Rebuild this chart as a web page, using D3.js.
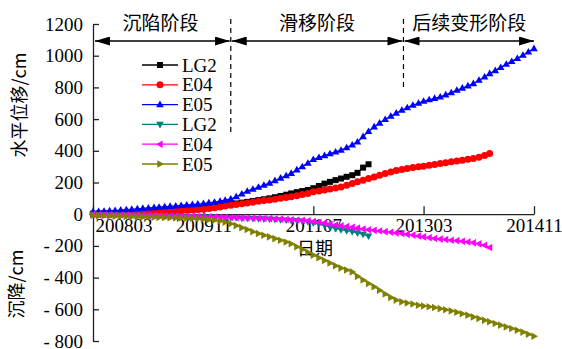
<!DOCTYPE html>
<html>
<head>
<meta charset="utf-8">
<script src="https://cdn.jsdelivr.net/npm/d3@7"></script>
<style>
  html, body { margin: 0; padding: 0; background: #fff; }
  svg { display: block; }
</style>
</head>
<body>
<script>
// Monthly monitoring readings from 2008-03 onward (cm)
const startMonth = "200803";
const endMonth = "201411";
const xTickLabels = ["200803", "200911", "201107", "201303", "201411"];
const yTickValues = [-800, -600, -400, -200, 0, 200, 400, 600, 800, 1000, 1200];
const seriesNames = ["LG2", "E04", "E05", "LG2", "E04", "E05"];
const phaseNames = ["沉陷阶段", "滑移阶段", "后续变形阶段"];
const phaseBounds = ["2008-03-01", "2010-04-01", "2012-11-10", "2014-11-01"];

// horizontal displacement
const lg2Horizontal = [3, 4, 5, 6, 7, 8, 9, 10, 11, 13, 14, 15, 17, 18, 20, 22, 24, 27, 29, 31,
  34, 39, 44, 50, 56, 63, 68, 73, 78, 83, 89, 94, 100, 107, 115, 123, 131, 139, 146, 153,
  164, 178, 193, 204, 215, 225, 236, 246, 261, 294, 315];
const e04Horizontal = [2, 3, 4, 5, 6, 7, 8, 9, 10, 12, 13, 14, 16, 17, 19, 21, 23, 25, 27, 29,
  32, 36, 41, 46, 51, 57, 61, 66, 71, 76, 81, 86, 90, 95, 100, 105, 110, 117, 124, 131,
  141, 147, 153, 159, 166, 172, 183, 193, 204, 214, 225, 235, 246, 257, 267, 275, 282, 288, 294, 299,
  303, 309, 314, 320, 325, 331, 336, 341, 346, 351, 360, 370, 383];
const e05Horizontal = [15, 17, 19, 21, 23, 26, 28, 31, 34, 37, 39, 42, 44, 47, 50, 52, 55, 58, 61, 64,
  67, 72, 76, 82, 88, 96, 110, 128, 145, 158, 170, 183, 196, 212, 228, 243, 258, 280, 300, 322,
  345, 358, 370, 382, 393, 404, 420, 437, 456, 490, 522, 551, 575, 598, 618, 638, 656, 672, 688, 700,
  713, 722, 731, 740, 753, 767, 782, 796, 810, 824, 845, 866, 887, 906, 926, 946, 964, 983, 1003, 1024,
  1045];

// settlement
const lg2Settlement = [-1, -2, -3, -4, -4, -5, -6, -6, -7, -8, -9, -9, -10, -11, -12, -12, -13, -14, -15, -16,
  -17, -18, -19, -20, -21, -22, -23, -25, -26, -27, -28, -30, -31, -33, -35, -37, -39, -41, -44, -48,
  -55, -62, -70, -80, -90, -98, -104, -110, -118, -127, -138];
const e04Settlement = [-2, -3, -3, -4, -5, -5, -6, -7, -7, -8, -9, -9, -10, -11, -11, -12, -13, -13, -14, -15,
  -16, -17, -18, -19, -20, -21, -22, -23, -24, -25, -26, -27, -28, -30, -31, -33, -35, -37, -39, -41,
  -46, -51, -56, -62, -68, -73, -78, -83, -88, -93, -98, -102, -106, -110, -114, -118, -122, -127, -132, -138,
  -143, -148, -153, -157, -160, -164, -167, -171, -175, -180, -187, -196, -210];
const e05Settlement = [-8, -9, -10, -11, -12, -13, -14, -15, -16, -17, -18, -19, -20, -21, -22, -23, -24, -25, -27, -29,
  -31, -34, -38, -43, -50, -60, -72, -85, -97, -110, -122, -133, -143, -154, -164, -175, -186, -205, -222, -240,
  -258, -275, -292, -308, -325, -340, -352, -364, -392, -415, -437, -458, -480, -503, -525, -542, -553, -560, -567, -574,
  -579, -584, -589, -596, -603, -610, -619, -628, -637, -648, -658, -669, -679, -690, -700, -711, -721, -732, -744, -757,
  -770];

const seriesColors = ["#000000", "#ff0000", "#0000ff", "#008080", "#ff00ff", "#808000"];
const seriesShapes = ["square", "circle", "up", "down", "left", "right"];
const seriesValues = [lg2Horizontal, e04Horizontal, e05Horizontal, lg2Settlement, e04Settlement, e05Settlement];

const W = 562, H = 349;
const SERIF = '"Liberation Serif", "Times New Roman", serif';
const CJK = '"Noto Sans CJK SC", "Noto Sans", sans-serif';

const parseMonth = d3.timeParse("%Y%m");
const parseDay = d3.timeParse("%Y-%m-%d");
const t0 = parseMonth(startMonth);

const x = d3.scaleTime().domain([t0, parseMonth(endMonth)]).range([93, 534]);
const y = d3.scaleLinear().domain([-800, 1200]).range([341, 24]);

const svg = d3.select("body").append("svg").attr("width", W).attr("height", H);

// arrowheads for the phase spans
const defs = svg.append("defs");
defs.append("marker").attr("id", "arrowEnd")
  .attr("markerUnits", "userSpaceOnUse").attr("markerWidth", 16).attr("markerHeight", 10)
  .attr("refX", 15).attr("refY", 4.5).attr("orient", "auto")
  .append("path").attr("d", "M0,0 L15,4.5 L0,9 Z").attr("fill", "#000");
defs.append("marker").attr("id", "arrowStart")
  .attr("markerUnits", "userSpaceOnUse").attr("markerWidth", 16).attr("markerHeight", 10)
  .attr("refX", 0).attr("refY", 4.5).attr("orient", "auto")
  .append("path").attr("d", "M15,0 L0,4.5 L15,9 Z").attr("fill", "#000");

// y axis
const yAxis = svg.append("g").attr("transform", "translate(93,0)")
  .call(d3.axisLeft(y).tickValues(yTickValues).tickSizeInner(-6).tickSizeOuter(0).tickPadding(10)
    .tickFormat(d => d < 0 ? "- " + Math.abs(d) : String(d)));
yAxis.select(".domain").attr("stroke", "#222").attr("stroke-width", 1.3);
yAxis.selectAll(".tick line").attr("stroke", "#222").attr("stroke-width", 1.3);
yAxis.selectAll(".tick text").style("font-family", SERIF).style("font-size", "19px").attr("fill", "#000");

// x axis along the zero line
const xAxis = svg.append("g").attr("transform", `translate(0,${y(0)})`)
  .call(d3.axisBottom(x).tickValues(xTickLabels.map(parseMonth)).tickSizeInner(-8).tickSizeOuter(0)
    .tickPadding(4.5).tickFormat(d3.timeFormat("%Y%m")));
xAxis.select(".domain").attr("stroke", "#222").attr("stroke-width", 1.3);
xAxis.selectAll(".tick line").attr("stroke", "#222").attr("stroke-width", 1.3);
xAxis.selectAll(".tick text").style("font-family", SERIF).style("font-size", "19px").attr("fill", "#000");
xAxis.select(".tick text").attr("text-anchor", "start").attr("x", 2);

// axis titles
svg.append("text").attr("transform", "translate(26,105) rotate(-90)")
  .attr("text-anchor", "middle").style("font-family", CJK).style("font-size", "18px").text("水平位移/cm");
svg.append("text").attr("transform", "translate(23,284) rotate(-90)")
  .attr("text-anchor", "middle").style("font-family", CJK).style("font-size", "18px").text("沉降/cm");
svg.append("text").attr("x", 315).attr("y", 255)
  .attr("text-anchor", "middle").style("font-family", CJK).style("font-size", "18px").text("日期");

// phase separators, spans and names
const bx = phaseBounds.map(s => x(parseDay(s)));
const dashBottoms = [135, 88];
[1, 2].forEach((k, i) => {
  svg.append("line").attr("x1", bx[k]).attr("x2", bx[k]).attr("y1", 19).attr("y2", dashBottoms[i])
    .attr("stroke", "#000").attr("stroke-width", 1.2).attr("stroke-dasharray", "5,4");
});
phaseNames.forEach((name, i) => {
  const a = i === 0 ? bx[0] + 2 : bx[i] + 1;
  const b = i === 2 ? bx[3] : bx[i + 1] - 1;
  svg.append("line").attr("x1", a).attr("x2", b).attr("y1", 41).attr("y2", 41)
    .attr("stroke", "#000").attr("stroke-width", 1.3)
    .attr("marker-start", "url(#arrowStart)").attr("marker-end", "url(#arrowEnd)");
  svg.append("text").attr("x", (a + b) / 2 + (i === 0 ? -2 : 0)).attr("y", 30)
    .attr("text-anchor", "middle").style("font-family", CJK).style("font-size", "19px").text(name);
});

// marker shapes
function shapePath(kind) {
  switch (kind) {
    case "square": return "M-3,-3H3V3H-3Z";
    case "circle": return "M-3.5,0A3.5,3.5 0 1,0 3.5,0A3.5,3.5 0 1,0 -3.5,0Z";
    case "up": return "M0,-4L3.8,2.6L-3.8,2.6Z";
    case "down": return "M0,4L3.8,-2.6L-3.8,-2.6Z";
    case "left": return "M-4,0L2.6,-3.8L2.6,3.8Z";
    case "right": return "M4,0L-2.6,-3.8L-2.6,3.8Z";
  }
}

const line = d3.line().x(d => x(d.date)).y(d => y(d.value));

seriesValues.forEach((vals, i) => {
  const pts = vals.map((v, m) => ({ date: d3.timeMonth.offset(t0, m), value: v }));
  const g = svg.append("g");
  g.append("path").datum(pts).attr("d", line).attr("fill", "none")
    .attr("stroke", seriesColors[i]).attr("stroke-width", 1.3);
  g.selectAll("path.mk").data(pts).join("path").attr("class", "mk")
    .attr("transform", d => `translate(${x(d.date)},${y(d.value)})`)
    .attr("d", shapePath(seriesShapes[i])).attr("fill", seriesColors[i]);
});

// legend
const legend = svg.append("g");
seriesNames.forEach((name, i) => {
  const ly = 65 + i * 19.8;
  legend.append("line").attr("x1", 142).attr("x2", 178).attr("y1", ly).attr("y2", ly)
    .attr("stroke", seriesColors[i]).attr("stroke-width", 1.3);
  legend.append("path").attr("transform", `translate(160,${ly})`)
    .attr("d", shapePath(seriesShapes[i])).attr("fill", seriesColors[i]);
  legend.append("text").attr("x", 182).attr("y", ly + 6.5)
    .style("font-family", SERIF).style("font-size", "19px").text(name);
});
</script>
</body>
</html>
